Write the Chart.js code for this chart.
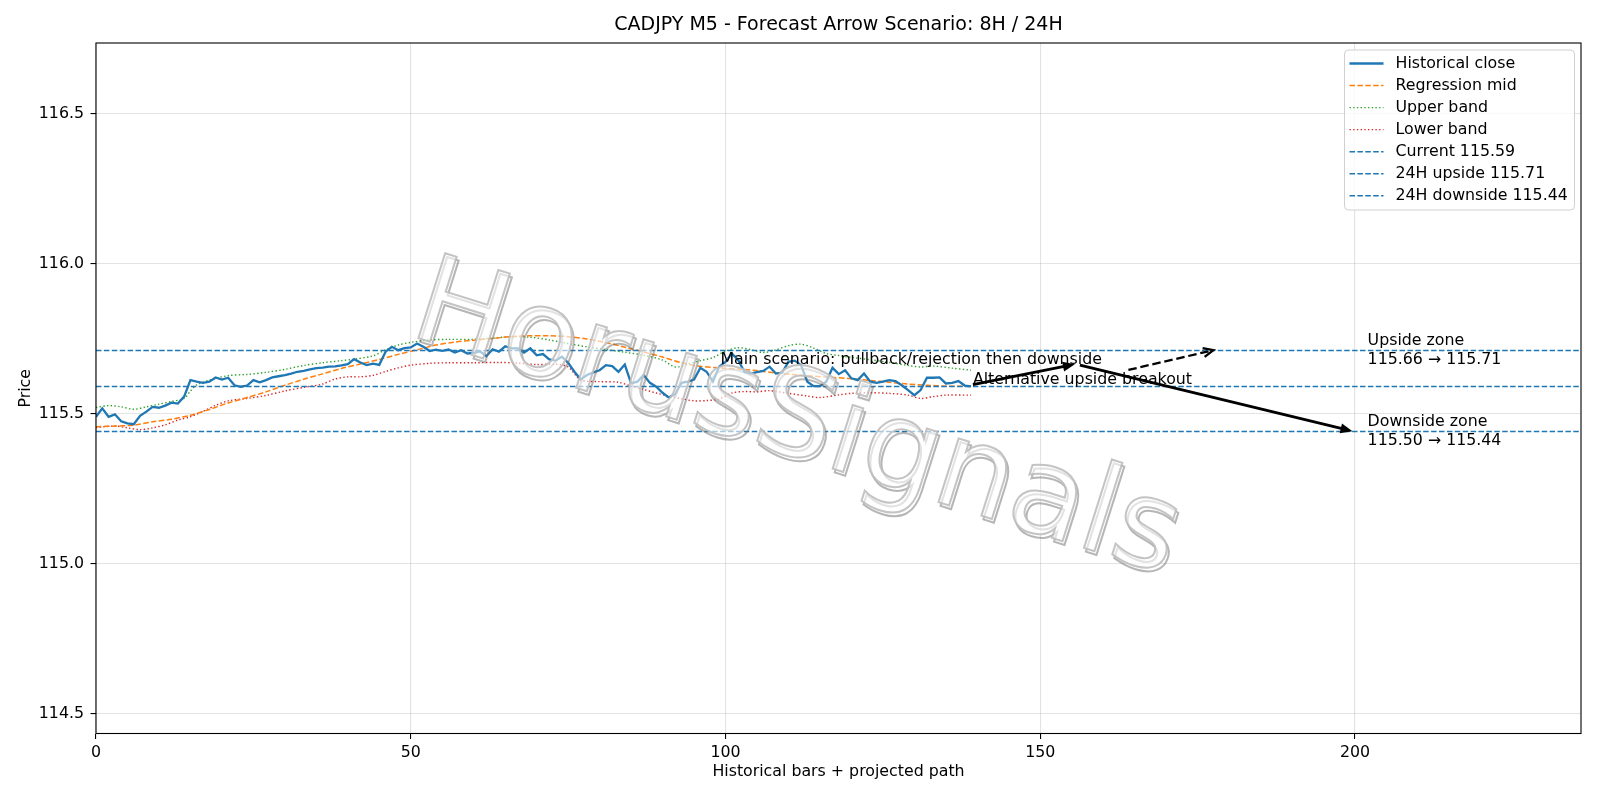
<!DOCTYPE html>
<html>
<head>
<meta charset="utf-8">
<title>CADJPY M5 - Forecast Arrow Scenario</title>
<script src="https://cdn.jsdelivr.net/npm/chart.js@4.4.1/dist/chart.umd.min.js"></script>
<style>
  html, body { margin: 0; padding: 0; background: #ffffff; }
  #chartBox { width: 1600px; height: 800px; }
</style>
</head>
<body>
<div id="chartBox"><canvas id="forecastChart" width="1600" height="800"></canvas></div>
<script>
// historical closes, one per bar (bar index = position in array)
var closePrices = [
  115.489, 115.517, 115.489, 115.497, 115.474, 115.467, 115.464, 115.492, 115.506, 115.522,
  115.519, 115.526, 115.536, 115.533, 115.556, 115.611, 115.606, 115.602, 115.606, 115.620,
  115.613, 115.619, 115.594, 115.589, 115.593, 115.611, 115.604, 115.611, 115.620, 115.624,
  115.628, 115.633, 115.639, 115.642, 115.647, 115.651, 115.653, 115.656, 115.657, 115.660,
  115.664, 115.681, 115.670, 115.661, 115.666, 115.662, 115.706, 115.722, 115.711, 115.718,
  115.720, 115.733, 115.722, 115.708, 115.713, 115.709, 115.713, 115.703, 115.711, 115.700,
  115.702, 115.707, 115.691, 115.714, 115.706, 115.724, 115.717, 115.717, 115.703, 115.717,
  115.694, 115.698, 115.680, 115.676, 115.689, 115.669, 115.639, 115.613, 115.628, 115.637,
  115.644, 115.661, 115.658, 115.639, 115.663, 115.600, 115.606, 115.628, 115.602, 115.589,
  115.569, 115.553, 115.564, 115.602, 115.606, 115.613, 115.652, 115.639, 115.606, 115.656,
  115.672, 115.700, 115.678, 115.639, 115.633, 115.638, 115.642, 115.656, 115.633, 115.636,
  115.672, 115.676, 115.661, 115.606, 115.591, 115.591, 115.606, 115.652, 115.631, 115.644,
  115.617, 115.611, 115.633, 115.606, 115.602, 115.606, 115.611, 115.608, 115.594, 115.578,
  115.561, 115.578, 115.619, 115.619, 115.620, 115.600, 115.602, 115.608, 115.593, 115.590
];

var midBars = [0, 3, 6, 9, 12, 15, 18, 21, 24, 27, 30, 33, 36, 39, 42, 45, 48, 51, 54, 57, 60, 63, 66, 69, 72,
  75, 78, 81, 84, 87, 90, 93, 96, 99, 102, 105, 108, 111, 114, 117, 120, 123, 126, 129, 132, 135, 139];
var midValues = [115.456, 115.458, 115.461, 115.472, 115.481, 115.494, 115.513, 115.535, 115.553, 115.572,
  115.594, 115.614, 115.632, 115.650, 115.665, 115.680, 115.697, 115.712, 115.728, 115.738, 115.744, 115.750,
  115.756, 115.759, 115.759, 115.756, 115.748, 115.736, 115.721, 115.705, 115.688, 115.669, 115.657, 115.652,
  115.648, 115.643, 115.635, 115.629, 115.624, 115.620, 115.616, 115.610, 115.604, 115.598, 115.594, 115.591, 115.591];

var upperBars = [0, 2, 4, 6, 8, 10, 12, 14, 15, 16, 18, 21, 24, 27, 30, 33, 36, 39, 41, 44, 46, 48, 50, 53, 56,
  60, 63, 66, 69, 72, 75, 78, 81, 84, 87, 90, 92, 94, 96, 98, 100, 102, 104, 106, 108, 110, 112, 114, 116, 118,
  120, 123, 126, 129, 131, 133, 136, 139];
var upperValues = [115.520, 115.526, 115.522, 115.514, 115.522, 115.531, 115.540, 115.550, 115.575, 115.595,
  115.611, 115.626, 115.630, 115.637, 115.647, 115.660, 115.669, 115.676, 115.681, 115.692, 115.712, 115.728,
  115.737, 115.745, 115.747, 115.747, 115.751, 115.756, 115.754, 115.745, 115.733, 115.722, 115.713, 115.704,
  115.694, 115.678, 115.655, 115.664, 115.676, 115.686, 115.708, 115.719, 115.713, 115.703, 115.712, 115.726,
  115.731, 115.718, 115.700, 115.693, 115.687, 115.679, 115.670, 115.660, 115.655, 115.658, 115.651, 115.644];

var lowerBars = [0, 3, 5, 7, 9, 11, 13, 15, 17, 19, 21, 24, 27, 30, 33, 36, 38, 40, 42, 44, 46, 48, 50, 53, 56,
  60, 64, 67, 70, 73, 75, 77, 80, 83, 85, 87, 89, 91, 93, 95, 97, 99, 101, 103, 105, 107, 110, 113, 115, 118,
  120, 123, 126, 129, 131, 133, 135, 139];
var lowerValues = [115.453, 115.458, 115.452, 115.446, 115.452, 115.462, 115.478, 115.489, 115.507, 115.527,
  115.542, 115.550, 115.560, 115.575, 115.587, 115.598, 115.615, 115.622, 115.622, 115.627, 115.640, 115.652,
  115.661, 115.667, 115.669, 115.669, 115.670, 115.668, 115.663, 115.664, 115.655, 115.612, 115.606, 115.604,
  115.591, 115.580, 115.568, 115.558, 115.549, 115.542, 115.543, 115.548, 115.568, 115.573, 115.572, 115.576,
  115.567, 115.558, 115.553, 115.562, 115.567, 115.569, 115.567, 115.561, 115.550, 115.556, 115.561, 115.561];

var currentLevel = 115.59;
var upsideLevel = 115.71;
var downsideLevel = 115.44;
var upsideZone = [115.66, 115.71];
var downsideZone = [115.50, 115.44];

var xTicks = [0, 50, 100, 150, 200];
var yTicks = [114.5, 115.0, 115.5, 116.0, 116.5];
var xRange = [0, 235.9];
var yRange = [114.433, 116.735];

// arrows: [x1, y1, x2, y2] in bars / price
var mainArrows = [[139.3, 115.596, 155.5, 115.664], [156.3, 115.661, 199.6, 115.441]];
var altArrow = [164.0, 115.645, 177.5, 115.711];
var mainLabel = { x: 99.2, y: 115.678, text: "Main scenario: pullback/rejection then downside" };
var altLabel = { x: 139.3, y: 115.613, text: "Alternative upside breakout" };
var zoneLabelX = 202;

var FONT = "'DejaVu Sans', 'Liberation Sans', sans-serif";
var SMALL = 15.8;
var BLUE = "#1f77b4", ORANGE = "#ff7f0e", GREEN = "#2ca02c", RED = "#d62728";

function toPoints(xs, ys) {
  var pts = [];
  for (var i = 0; i < ys.length; i++) pts.push({ x: xs[i], y: ys[i] });
  return pts;
}

var closePoints = closePrices.map(function(v, i) { return { x: i, y: v }; });

function levelLine(level) {
  return [{ x: xRange[0], y: level }, { x: xRange[1], y: level }];
}

var legendItems = [
  { label: "Historical close", color: BLUE, width: 2.3, dash: [] },
  { label: "Regression mid", color: ORANGE, width: 1.5, dash: [5.5, 2.4] },
  { label: "Upper band", color: GREEN, width: 1.4, dash: [1.4, 2.3] },
  { label: "Lower band", color: RED, width: 1.4, dash: [1.4, 2.3] },
  { label: "Current " + currentLevel.toFixed(2), color: BLUE, width: 1.5, dash: [5.5, 2.4] },
  { label: "24H upside " + upsideLevel.toFixed(2), color: BLUE, width: 1.5, dash: [5.5, 2.4] },
  { label: "24H downside " + downsideLevel.toFixed(2), color: BLUE, width: 1.5, dash: [5.5, 2.4] }
];

function drawArrow(ctx, x1, y1, x2, y2, width, dash, filledHead) {
  var ang = Math.atan2(y2 - y1, x2 - x1);
  var headLen = filledHead ? 12 : 10;
  var headHalf = filledHead ? 5 : 4.5;
  ctx.save();
  ctx.strokeStyle = "#000";
  ctx.fillStyle = "#000";
  ctx.lineWidth = width;
  ctx.setLineDash(dash);
  ctx.beginPath();
  ctx.moveTo(x1, y1);
  if (filledHead) ctx.lineTo(x2 - Math.cos(ang) * headLen * 0.8, y2 - Math.sin(ang) * headLen * 0.8);
  else ctx.lineTo(x2, y2);
  ctx.stroke();
  ctx.setLineDash([]);
  var bx = x2 - Math.cos(ang) * headLen, by = y2 - Math.sin(ang) * headLen;
  var px = -Math.sin(ang) * headHalf, py = Math.cos(ang) * headHalf;
  ctx.beginPath();
  if (filledHead) {
    ctx.moveTo(x2, y2);
    ctx.lineTo(bx + px, by + py);
    ctx.lineTo(bx - px, by - py);
    ctx.closePath();
    ctx.fill();
  } else {
    ctx.lineWidth = width;
    ctx.moveTo(bx + px, by + py);
    ctx.lineTo(x2, y2);
    ctx.lineTo(bx - px, by - py);
    ctx.stroke();
  }
  ctx.restore();
}

var decorPlugin = {
  id: "decor",
  afterDatasetsDraw: function(chart) {
    // watermark over the plot
    var ctx = chart.ctx;
    ctx.save();
    ctx.translate(796, 424);
    ctx.rotate(17.5 * Math.PI / 180);
    ctx.font = "122px " + FONT;
    ctx.textAlign = "center";
    ctx.textBaseline = "middle";
    ctx.lineWidth = 2;
    ctx.strokeStyle = "rgba(110,110,110,0.5)";
    ctx.strokeText("HorusSignals", 3, 3);
    ctx.fillStyle = "rgba(255,255,255,0.6)";
    ctx.fillText("HorusSignals", 0, 0);
    ctx.strokeStyle = "rgba(190,190,190,0.9)";
    ctx.strokeText("HorusSignals", 0, 0);
    ctx.restore();
  },
  afterDraw: function(chart) {
    var ctx = chart.ctx;
    var xs = chart.scales.x, ys = chart.scales.y;
    var area = chart.chartArea;

    // frame
    ctx.save();
    ctx.strokeStyle = "#000";
    ctx.lineWidth = 1.1;
    ctx.strokeRect(area.left, area.top, area.right - area.left, area.bottom - area.top);
    ctx.restore();

    // title
    ctx.save();
    ctx.fillStyle = "#000";
    ctx.font = "19px " + FONT;
    ctx.textAlign = "center";
    ctx.textBaseline = "middle";
    ctx.fillText("CADJPY M5 - Forecast Arrow Scenario: 8H / 24H", (area.left + area.right) / 2, 25.5);
    ctx.restore();

    // arrows
    mainArrows.forEach(function(a) {
      drawArrow(ctx, xs.getPixelForValue(a[0]), ys.getPixelForValue(a[1]),
        xs.getPixelForValue(a[2]), ys.getPixelForValue(a[3]), 2.9, [], true);
    });
    drawArrow(ctx, xs.getPixelForValue(altArrow[0]), ys.getPixelForValue(altArrow[1]),
      xs.getPixelForValue(altArrow[2]), ys.getPixelForValue(altArrow[3]), 2.3, [8.5, 3.8], false);

    // annotation texts
    ctx.save();
    ctx.fillStyle = "#000";
    ctx.font = SMALL + "px " + FONT;
    ctx.textAlign = "left";
    ctx.textBaseline = "middle";
    ctx.fillText(mainLabel.text, xs.getPixelForValue(mainLabel.x), ys.getPixelForValue(mainLabel.y));
    ctx.fillText(altLabel.text, xs.getPixelForValue(altLabel.x), ys.getPixelForValue(altLabel.y));
    var zx = xs.getPixelForValue(zoneLabelX);
    var uy = ys.getPixelForValue(upsideLevel), dy = ys.getPixelForValue(downsideLevel);
    ctx.fillText("Upside zone", zx, uy - 9.2);
    ctx.fillText(upsideZone[0].toFixed(2) + " \u2192 " + upsideZone[1].toFixed(2), zx, uy + 9.2);
    ctx.fillText("Downside zone", zx, dy - 9.2);
    ctx.fillText(downsideZone[0].toFixed(2) + " \u2192 " + downsideZone[1].toFixed(2), zx, dy + 9.2);
    ctx.restore();

    // legend (upper right, inside axes)
    var bx = 1344.5, by = 50, bw = 230, bh = 160;
    ctx.save();
    ctx.beginPath();
    ctx.roundRect(bx, by, bw, bh, 4);
    ctx.fillStyle = "rgba(255,255,255,0.8)";
    ctx.fill();
    ctx.strokeStyle = "#d0d0d0";
    ctx.lineWidth = 1;
    ctx.stroke();
    ctx.font = SMALL + "px " + FONT;
    ctx.textBaseline = "middle";
    ctx.textAlign = "left";
    legendItems.forEach(function(item, i) {
      var ry = 63.5 + i * 22.05;
      ctx.beginPath();
      ctx.setLineDash(item.dash);
      ctx.strokeStyle = item.color;
      ctx.lineWidth = item.width;
      ctx.moveTo(1349.5, ry);
      ctx.lineTo(1383.5, ry);
      ctx.stroke();
      ctx.setLineDash([]);
      ctx.fillStyle = "#000";
      ctx.fillText(item.label, 1395.5, ry);
    });
    ctx.restore();
  }
};

var gridColor = "rgba(176,176,176,0.35)";

var forecastChart = new Chart(document.getElementById("forecastChart"), {
  type: "line",
  data: {
    datasets: [
      { label: "Historical close", data: closePoints, borderColor: BLUE, borderWidth: 2.3, pointRadius: 0, tension: 0, order: 4 },
      { label: "Regression mid", data: toPoints(midBars, midValues), borderColor: ORANGE, borderWidth: 1.5,
        borderDash: [5.5, 2.4], pointRadius: 0, tension: 0.3, order: 5 },
      { label: "Upper band", data: toPoints(upperBars, upperValues), borderColor: GREEN, borderWidth: 1.4,
        borderDash: [1.4, 2.3], pointRadius: 0, tension: 0.3, order: 6 },
      { label: "Lower band", data: toPoints(lowerBars, lowerValues), borderColor: RED, borderWidth: 1.4,
        borderDash: [1.4, 2.3], pointRadius: 0, tension: 0.3, order: 7 },
      { label: "Current", data: levelLine(currentLevel), borderColor: BLUE, borderWidth: 1.5,
        borderDash: [5.5, 2.4], pointRadius: 0, order: 1 },
      { label: "24H upside", data: levelLine(upsideLevel), borderColor: BLUE, borderWidth: 1.5,
        borderDash: [5.5, 2.4], pointRadius: 0, order: 2 },
      { label: "24H downside", data: levelLine(downsideLevel), borderColor: BLUE, borderWidth: 1.5,
        borderDash: [5.5, 2.4], pointRadius: 0, order: 3 }
    ]
  },
  options: {
    responsive: false,
    animation: false,
    devicePixelRatio: 1,
    layout: { padding: { top: 43, right: 19, bottom: 0, left: 0 } },
    plugins: { legend: { display: false }, title: { display: false }, tooltip: { enabled: false } },
    scales: {
      x: {
        type: "linear",
        min: xRange[0],
        max: xRange[1],
        afterBuildTicks: function(axis) { axis.ticks = xTicks.map(function(v) { return { value: v }; }); },
        afterFit: function(axis) { axis.height = 66.5; },
        ticks: { color: "#000", font: { family: FONT, size: SMALL }, padding: 4, maxRotation: 0,
          callback: function(v) { return String(v); } },
        grid: { color: gridColor, lineWidth: 1.1, drawTicks: true, tickLength: 5.5, tickColor: "#000", tickWidth: 1.1 },
        border: { display: false },
        title: { display: true, text: "Historical bars + projected path", color: "#000",
          font: { family: FONT, size: SMALL }, padding: { top: 0, bottom: 18.2 } }
      },
      y: {
        min: yRange[0],
        max: yRange[1],
        afterBuildTicks: function(axis) { axis.ticks = yTicks.map(function(v) { return { value: v }; }); },
        afterFit: function(axis) { axis.width = 96; },
        ticks: { color: "#000", font: { family: FONT, size: SMALL }, padding: 6.5,
          callback: function(v) { return Number(v).toFixed(1); } },
        grid: { color: gridColor, lineWidth: 1.1, drawTicks: true, tickLength: 5.5, tickColor: "#000", tickWidth: 1.1 },
        border: { display: false },
        title: { display: true, text: "Price", color: "#000",
          font: { family: FONT, size: SMALL }, padding: { top: 16, bottom: 0 } }
      }
    }
  },
  plugins: [decorPlugin]
});
</script>
</body>
</html>
